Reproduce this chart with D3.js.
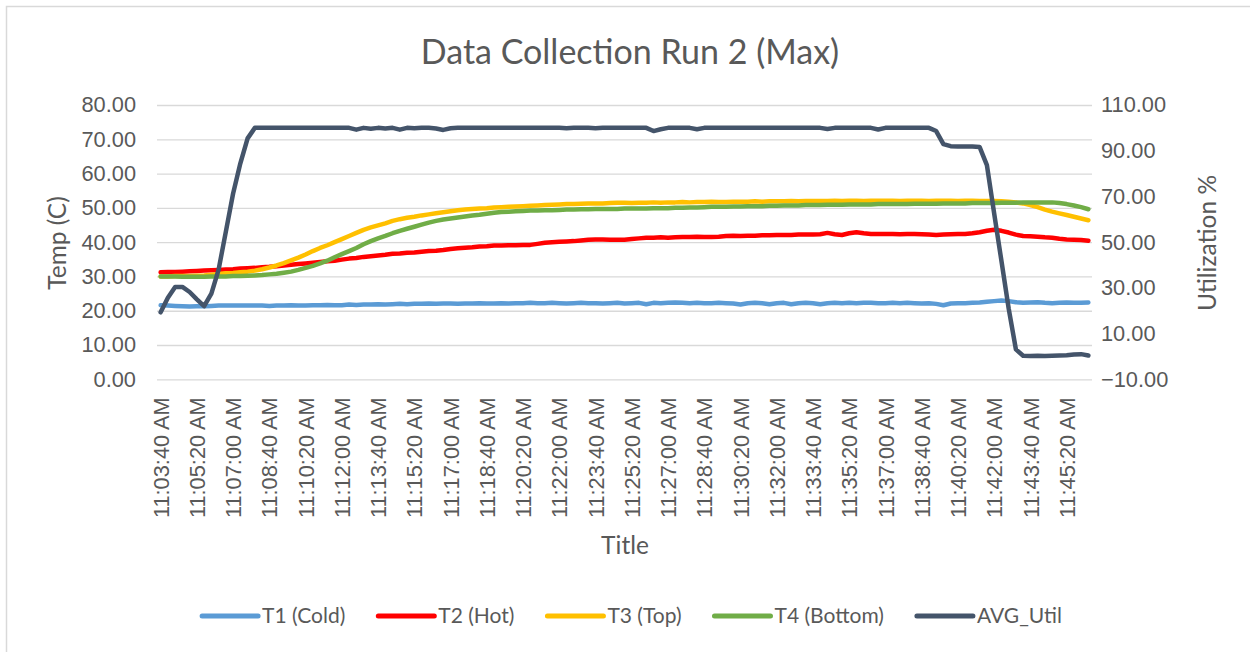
<!DOCTYPE html>
<html>
<head>
<meta charset="utf-8">
<title>Data Collection Run 2 (Max)</title>
<script src="https://cdn.jsdelivr.net/npm/d3@7.9.0/dist/d3.min.js"></script>
<style>
  body { margin: 0; background: #fff; }
  svg { display: block; font-family: Lato, 'Open Sans', sans-serif; }
</style>
</head>
<body>
<svg id="chart" width="1250" height="652"></svg>
<script>
// one sample every 20 s
const sampleTimes = [
  '11:03:40',
  '11:04:00', '11:04:20', '11:04:40', '11:05:00', '11:05:20', '11:05:40',
  '11:06:00', '11:06:20', '11:06:40', '11:07:00', '11:07:20', '11:07:40',
  '11:08:00', '11:08:20', '11:08:40', '11:09:00', '11:09:20', '11:09:40',
  '11:10:00', '11:10:20', '11:10:40', '11:11:00', '11:11:20', '11:11:40',
  '11:12:00', '11:12:20', '11:12:40', '11:13:00', '11:13:20', '11:13:40',
  '11:14:00', '11:14:20', '11:14:40', '11:15:00', '11:15:20', '11:15:40',
  '11:16:00', '11:16:20', '11:16:40', '11:17:00', '11:17:20', '11:17:40',
  '11:18:00', '11:18:20', '11:18:40', '11:19:00', '11:19:20', '11:19:40',
  '11:20:00', '11:20:20', '11:20:40', '11:21:00', '11:21:20', '11:21:40',
  '11:22:00', '11:22:20', '11:22:40', '11:23:00', '11:23:20', '11:23:40',
  '11:24:00', '11:24:20', '11:24:40', '11:25:00', '11:25:20', '11:25:40',
  '11:26:00', '11:26:20', '11:26:40', '11:27:00', '11:27:20', '11:27:40',
  '11:28:00', '11:28:20', '11:28:40', '11:29:00', '11:29:20', '11:29:40',
  '11:30:00', '11:30:20', '11:30:40', '11:31:00', '11:31:20', '11:31:40',
  '11:32:00', '11:32:20', '11:32:40', '11:33:00', '11:33:20', '11:33:40',
  '11:34:00', '11:34:20', '11:34:40', '11:35:00', '11:35:20', '11:35:40',
  '11:36:00', '11:36:20', '11:36:40', '11:37:00', '11:37:20', '11:37:40',
  '11:38:00', '11:38:20', '11:38:40', '11:39:00', '11:39:20', '11:39:40',
  '11:40:00', '11:40:20', '11:40:40', '11:41:00', '11:41:20', '11:41:40',
  '11:42:00', '11:42:20', '11:42:40', '11:43:00', '11:43:20', '11:43:40',
  '11:44:00', '11:44:20', '11:44:40', '11:45:00', '11:45:20', '11:45:40',
  '11:46:00', '11:46:20'
];

const tickLabels = [
  '11:03:40', '11:05:20', '11:07:00', '11:08:40', '11:10:20', '11:12:00',
  '11:13:40', '11:15:20', '11:17:00', '11:18:40', '11:20:20', '11:22:00',
  '11:23:40', '11:25:20', '11:27:00', '11:28:40', '11:30:20', '11:32:00',
  '11:33:40', '11:35:20', '11:37:00', '11:38:40', '11:40:20', '11:42:00',
  '11:43:40', '11:45:20'
];

const t1Cold = [
  21.6, 21.5, 21.4, 21.3, 21.2, 21.3, 21.3, 21.4, 21.5, 21.5,
  21.5, 21.5, 21.5, 21.5, 21.5, 21.4, 21.5, 21.5, 21.6, 21.5,
  21.5, 21.6, 21.6, 21.7, 21.6, 21.6, 21.8, 21.7, 21.8, 21.8,
  21.9, 21.8, 21.9, 22.0, 21.9, 22.0, 22.0, 22.1, 22.0, 22.1,
  22.1, 22.0, 22.1, 22.1, 22.2, 22.1, 22.1, 22.2, 22.1, 22.2,
  22.2, 22.3, 22.2, 22.2, 22.3, 22.2, 22.1, 22.2, 22.3, 22.2,
  22.2, 22.1, 22.2, 22.3, 22.1, 22.2, 22.3, 21.9, 22.3, 22.2,
  22.3, 22.4, 22.3, 22.2, 22.3, 22.2, 22.2, 22.3, 22.2, 22.1,
  21.8, 22.2, 22.3, 22.2, 21.9, 22.2, 22.3, 21.9, 22.2, 22.3,
  22.2, 21.9, 22.2, 22.3, 22.2, 22.3, 22.2, 22.3, 22.3, 22.2,
  22.2, 22.3, 22.2, 22.3, 22.2, 22.1, 22.2, 22.0, 21.6, 22.1,
  22.2, 22.2, 22.3, 22.4, 22.6, 22.8, 23.0, 22.8, 22.5, 22.3,
  22.4, 22.5, 22.3, 22.2, 22.3, 22.4, 22.3, 22.3, 22.4
];

const t2Hot = [
  31.2, 31.3, 31.3, 31.4, 31.5, 31.6, 31.7, 31.8, 31.9, 32.0,
  32.1, 32.3, 32.4, 32.5, 32.7, 32.8, 33.0, 33.2, 33.4, 33.6,
  33.8, 34.0, 34.2, 34.4, 34.6, 34.9, 35.2, 35.4, 35.7, 35.9,
  36.1, 36.3, 36.6, 36.7, 36.9, 37.0, 37.2, 37.4, 37.5, 37.7,
  38.0, 38.2, 38.4, 38.5, 38.7, 38.8, 39.0, 39.0, 39.1, 39.1,
  39.2, 39.2, 39.5, 39.8, 40.0, 40.1, 40.2, 40.3, 40.5, 40.7,
  40.8, 40.8, 40.7, 40.7, 40.7, 40.9, 41.1, 41.3, 41.3, 41.4,
  41.3, 41.4, 41.5, 41.5, 41.6, 41.5, 41.5, 41.6, 41.8, 41.9,
  41.8, 41.9, 41.9, 42.0, 42.0, 42.1, 42.1, 42.1, 42.2, 42.2,
  42.2, 42.3, 42.7, 42.3, 42.1, 42.6, 42.9, 42.6, 42.4, 42.4,
  42.4, 42.4, 42.3, 42.4, 42.4, 42.3, 42.2, 42.1, 42.2, 42.3,
  42.4, 42.4, 42.6, 42.9, 43.3, 43.6, 43.3, 42.8, 42.2, 41.8,
  41.7, 41.6, 41.4, 41.3, 41.0, 40.8, 40.7, 40.6, 40.4
];

const t3Top = [
  30.0, 30.0, 30.1, 30.1, 30.1, 30.2, 30.3, 30.5, 30.7, 30.9,
  31.0, 31.2, 31.4, 31.7, 32.1, 32.6, 33.2, 33.9, 34.7, 35.5,
  36.4, 37.4, 38.3, 39.1, 40.0, 40.9, 41.8, 42.7, 43.6, 44.3,
  44.9, 45.5, 46.2, 46.7, 47.1, 47.4, 47.8, 48.1, 48.4, 48.7,
  49.0, 49.3, 49.5, 49.7, 49.8, 49.9, 50.1, 50.2, 50.3, 50.4,
  50.5, 50.6, 50.7, 50.8, 50.9, 51.0, 51.1, 51.1, 51.2, 51.3,
  51.3, 51.3, 51.4, 51.5, 51.5, 51.4, 51.5, 51.5, 51.6, 51.5,
  51.6, 51.6, 51.7, 51.6, 51.7, 51.7, 51.8, 51.7, 51.7, 51.8,
  51.8, 51.8, 51.9, 51.8, 51.9, 51.9, 51.9, 52.0, 51.9, 52.0,
  52.0, 52.0, 52.0, 52.1, 52.0, 52.1, 52.1, 52.0, 52.1, 52.1,
  52.1, 52.1, 52.0, 52.1, 52.1, 52.1, 52.0, 52.1, 52.1, 52.1,
  52.0, 52.1, 52.1, 52.0, 52.0, 52.0, 51.9, 51.8, 51.6, 51.3,
  50.8, 50.2, 49.5, 48.9, 48.4, 47.9, 47.4, 46.9, 46.4
];

const t4Bottom = [
  30.0, 30.0, 30.0, 29.9, 29.9, 29.9, 29.9, 30.0, 30.0, 30.0,
  30.1, 30.1, 30.2, 30.3, 30.4, 30.6, 30.8, 31.1, 31.4, 31.9,
  32.5, 33.1, 33.8, 34.6, 35.6, 36.5, 37.4, 38.3, 39.4, 40.3,
  41.1, 41.8, 42.6, 43.3, 43.9, 44.5, 45.1, 45.7, 46.2, 46.6,
  46.9, 47.2, 47.5, 47.8, 48.0, 48.3, 48.6, 48.8, 48.9, 49.0,
  49.1, 49.2, 49.2, 49.3, 49.3, 49.4, 49.5, 49.5, 49.6, 49.6,
  49.7, 49.7, 49.7, 49.7, 49.8, 49.8, 49.8, 49.8, 49.9, 49.9,
  49.9, 50.0, 50.0, 50.1, 50.1, 50.2, 50.3, 50.3, 50.3, 50.4,
  50.4, 50.5, 50.5, 50.5, 50.6, 50.6, 50.7, 50.7, 50.7, 50.8,
  50.8, 50.8, 50.9, 50.9, 50.9, 51.0, 51.0, 51.0, 51.0, 51.1,
  51.1, 51.1, 51.1, 51.1, 51.2, 51.2, 51.2, 51.2, 51.3, 51.3,
  51.3, 51.3, 51.4, 51.4, 51.4, 51.4, 51.5, 51.5, 51.5, 51.6,
  51.6, 51.6, 51.6, 51.6, 51.4, 51.1, 50.7, 50.2, 49.6
];

const avgUtil = [
  19.3, 25.7, 30.4, 30.4, 28.2, 25.0, 22.0, 27.5, 38.0, 54.6,
  71.3, 84.5, 95.4, 100, 100, 100, 100, 100, 100, 100,
  100, 100, 100, 100, 100, 100, 100, 99.2, 100, 99.6,
  100, 99.7, 100, 99.2, 100, 99.8, 100, 100, 99.7, 99.1,
  99.8, 100, 100, 100, 100, 100, 100, 100, 100, 100,
  100, 100, 100, 100, 100, 100, 99.8, 100, 100, 100,
  99.8, 100, 100, 100, 100, 100, 100, 100, 98.6, 99.4,
  100, 100, 100, 100, 99.4, 100, 100, 100, 100, 100,
  100, 100, 100, 100, 100, 100, 100, 100, 100, 100,
  100, 100, 99.5, 100, 100, 100, 100, 100, 100, 99.3,
  100, 100, 100, 100, 100, 100, 100, 98.6, 92.9, 92.0,
  91.8, 91.8, 91.8, 91.6, 83.7, 62.6, 41.9, 21.0, 3.1, 0.3,
  0.2, 0.3, 0.2, 0.3, 0.4, 0.5, 0.8, 1.0, 0.4
];

const leftTicks = [0, 10, 20, 30, 40, 50, 60, 70, 80];
const rightTicks = [-10, 10, 30, 50, 70, 90, 110];

const seriesNames = ['T1 (Cold)', 'T2 (Hot)', 'T3 (Top)', 'T4 (Bottom)', 'AVG_Util'];
const seriesValues = [t1Cold, t2Hot, t3Top, t4Bottom, avgUtil];
const seriesColors = ['#5B9BD5', '#FF0000', '#FFC000', '#70AD47', '#44546A'];
const onRightAxis = [false, false, false, false, true];

const textColor = '#595959';
const gridColor = '#D9D9D9';

const svg = d3.select('#chart');
const plot = { left: 157, right: 1092, top: 105, bottom: 379.3 };

svg.append('rect')
  .attr('x', 6.5).attr('y', 6.5)
  .attr('width', 1260).attr('height', 660)
  .attr('fill', '#fff')
  .attr('stroke', gridColor)
  .attr('stroke-width', 1.5);

const categories = sampleTimes.map(t => t + ' AM');

const x = d3.scalePoint()
  .domain(categories)
  .range([plot.left, plot.right])
  .padding(0.5);

const yLeft = d3.scaleLinear().domain([0, 80]).range([plot.bottom, plot.top]);
const yRight = d3.scaleLinear().domain([-10, 110]).range([plot.bottom, plot.top]);

// gridlines
svg.append('g')
  .attr('transform', `translate(${plot.left},0)`)
  .call(d3.axisLeft(yLeft).tickValues(leftTicks).tickSize(-(plot.right - plot.left)).tickFormat(''))
  .call(g => g.select('.domain').remove())
  .call(g => g.selectAll('line').attr('stroke', gridColor).attr('stroke-width', 1.3));

// left axis labels
svg.append('g')
  .attr('transform', `translate(${plot.left},0)`)
  .call(d3.axisLeft(yLeft).tickValues(leftTicks).tickSize(0).tickPadding(21).tickFormat(d3.format('.2f')))
  .call(g => g.select('.domain').remove())
  .call(g => g.selectAll('text')
    .attr('fill', textColor).attr('font-size', 21.8).attr('font-family', null));

// right axis labels
svg.append('g')
  .attr('transform', `translate(${plot.right},0)`)
  .call(d3.axisRight(yRight).tickValues(rightTicks).tickSize(0).tickPadding(9).tickFormat(d3.format('.2f')))
  .call(g => g.select('.domain').remove())
  .call(g => g.selectAll('text')
    .attr('fill', textColor).attr('font-size', 21.8).attr('font-family', null));

// category axis, rotated labels
svg.append('g')
  .attr('transform', `translate(0,${plot.bottom})`)
  .call(d3.axisBottom(x).tickValues(tickLabels.map(t => t + ' AM')).tickSize(0))
  .call(g => g.select('.domain').remove())
  .call(g => g.selectAll('text')
    .attr('fill', textColor).attr('font-size', 21.8).attr('font-family', null)
    .attr('transform', 'rotate(-90)')
    .attr('x', -18).attr('y', 0).attr('dy', '0.35em')
    .attr('text-anchor', 'end'));

// series
const line = (scale) => d3.line()
  .x((d, i) => x(categories[i]))
  .y(d => scale(d));

seriesValues.forEach((values, idx) => {
  svg.append('path')
    .datum(values)
    .attr('fill', 'none')
    .attr('stroke', seriesColors[idx])
    .attr('stroke-width', 4.5)
    .attr('stroke-linejoin', 'round')
    .attr('stroke-linecap', 'round')
    .attr('d', line(onRightAxis[idx] ? yRight : yLeft));
});

// titles
svg.append('text')
  .attr('x', 630).attr('y', 64)
  .attr('text-anchor', 'middle')
  .attr('fill', textColor)
  .attr('font-size', 34)
  .text('Data Collection Run 2 (Max)');

svg.append('text')
  .attr('transform', 'translate(57,243) rotate(-90)')
  .attr('text-anchor', 'middle')
  .attr('dy', '0.35em')
  .attr('fill', textColor)
  .attr('font-size', 24.5)
  .text('Temp (C)');

svg.append('text')
  .attr('transform', 'translate(1207,243) rotate(-90)')
  .attr('text-anchor', 'middle')
  .attr('dy', '0.35em')
  .attr('fill', textColor)
  .attr('font-size', 24.5)
  .text('Utilization %');

svg.append('text')
  .attr('x', 625).attr('y', 554)
  .attr('text-anchor', 'middle')
  .attr('fill', textColor)
  .attr('font-size', 24.5)
  .text('Title');

// legend, centred under the plot
const legend = svg.append('g');
const swatchW = 56, swatchGap = 4, itemGap = 33, legendY = 616;
const items = seriesNames.map((name, idx) => {
  const g = legend.append('g');
  g.append('line')
    .attr('x1', 0).attr('x2', swatchW)
    .attr('y1', legendY).attr('y2', legendY)
    .attr('stroke', seriesColors[idx])
    .attr('stroke-width', 5)
    .attr('stroke-linecap', 'round');
  const label = g.append('text')
    .attr('x', swatchW + swatchGap).attr('y', legendY)
    .attr('dy', '0.35em')
    .attr('fill', textColor)
    .attr('font-size', 21)
    .text(name);
  return { g, width: swatchW + swatchGap + label.node().getComputedTextLength() };
});
const total = d3.sum(items, d => d.width) + itemGap * (items.length - 1);
let cursor = 632 - total / 2;
items.forEach(item => {
  item.g.attr('transform', `translate(${cursor},0)`);
  cursor += item.width + itemGap;
});
</script>
</body>
</html>
